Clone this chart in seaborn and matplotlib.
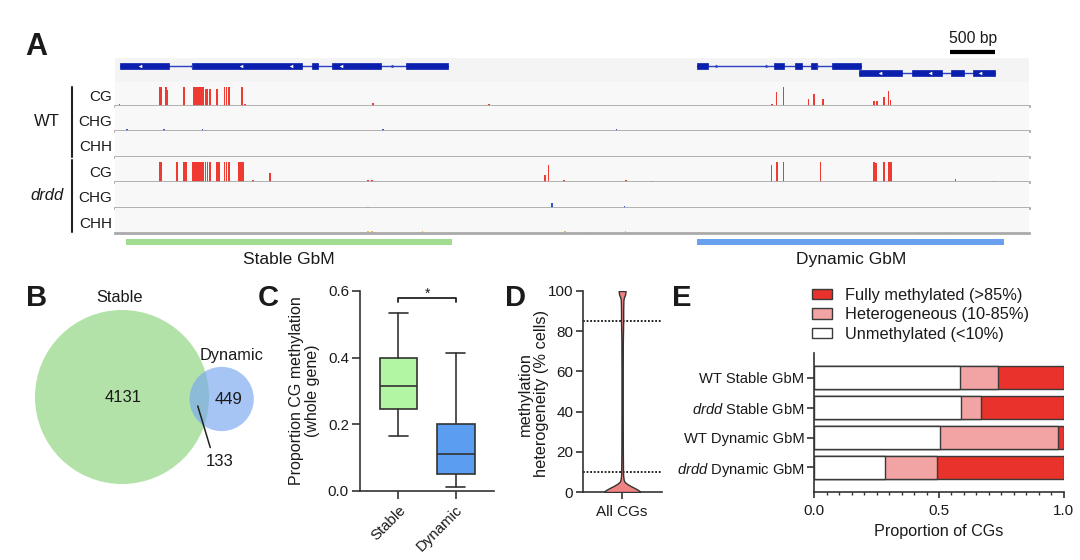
import numpy as np
import pandas as pd
import matplotlib
matplotlib.use("Agg")
import matplotlib.pyplot as plt
from matplotlib.patches import Rectangle, Circle, Patch
from matplotlib.lines import Line2D
from matplotlib.ticker import MultipleLocator
import matplotlib.transforms as mtransforms
import seaborn as sns

# ---------------- data ----------------
REGION_BP = 10210

# gene models (bp), row 0 = upper row, row 1 = lower row
gene_rows = [0, 0, 1]
gene_strand = ["-", "+", "-"]
gene_exons = [
    [(54, 600), (861, 2089), (2196, 2273), (2427, 2966), (3254, 3716)],
    [(6498, 6621), (7363, 7478), (7593, 7678), (7778, 7847), (8009, 8336)],
    [(8313, 8794), (8901, 9236), (9344, 9485), (9586, 9832)],
]

# CG sites with no methylation (shown as small ticks under the CG tracks)
cg_sites = [190, 413, 447, 491, 1318, 1396, 1441, 1474, 1541, 1564, 1597, 1620, 1642, 1676,
            1731, 1810, 1843, 1877, 1899, 1977, 2044, 2066, 2725, 2904, 2938, 2960, 3116,
            3183, 3485, 3809, 4166, 4289, 4390, 4446, 4490, 4546, 4747, 4792, 4837, 5004,
            5082, 5194, 5239, 5283, 5362, 5451, 5507, 5607, 5641, 5697, 5730, 5842, 5954,
            5987, 6021, 6054, 6088, 6132, 6166, 6255, 6490, 6534, 6579, 6624, 6791, 6847,
            6892, 6925, 7037, 7395, 7540, 7797, 7887, 7931, 8154, 8545, 8657, 8914, 9048,
            9137, 9182, 9360, 9417, 9584, 9606, 9662, 9696, 9740, 9941, 9997, 10131]

# methylation levels per site (0-1)
wt_cg_pos = [50, 496, 512, 570, 585, 773, 881, 900, 919, 938, 958, 985, 1015, 1034, 1062,
             1138, 1223, 1247, 1270, 1420, 1454, 2881, 4178,
             7343, 7390, 7467, 7748, 7806, 7909, 8478, 8509, 8594, 8640, 8664]
wt_cg_lvl = [0.1, 1.0, 1.0, 1.0, 0.83, 1.0, 1.0, 1.0, 1.0, 1.0, 1.0, 1.0, 0.9, 0.86, 0.86,
             0.86, 1.0, 1.0, 1.0, 1.0, 0.1, 0.15, 0.12,
             0.1, 0.71, 1.0, 0.36, 0.6, 0.34, 0.28, 0.28, 0.48, 0.78, 0.31]
wt_chg_pos = [134, 548, 977, 1015, 2993, 5601]
wt_chg_lvl = [0.12, 0.08, 0.1, 0.07, 0.1, 0.1]
wt_chh_pos = [548, 985, 1030, 1080, 1138, 2881, 4524, 6825, 7641, 8053, 8250, 8369, 9190]
wt_chh_lvl = [0.05, 0.06, 0.05, 0.06, 0.05, 0.06, 0.05, 0.04, 0.04, 0.04, 0.04, 0.04, 0.04]

drdd_cg_pos = [496, 512, 689, 773, 793, 869, 889, 908, 927, 946, 965, 985, 1012, 1034, 1062,
               1138, 1162, 1223, 1247, 1270, 1388, 1407, 1430, 1543, 1735, 2824, 2870,
               4805, 4843, 5016, 5613, 5709, 5997,
               7332, 7393, 7467, 7882, 8478, 8502, 8594, 8643, 8667, 9390, 9818]
drdd_cg_lvl = [1.0, 1.0, 1.0, 1.0, 1.0, 1.0, 1.0, 1.0, 1.0, 1.0, 1.0, 1.0, 1.0, 1.0, 1.0,
               1.0, 1.0, 1.0, 1.0, 1.0, 1.0, 1.0, 1.0, 0.1, 0.47, 0.1, 0.1,
               0.33, 0.86, 0.1, 0.07, 0.1, 0.05,
               0.86, 1.0, 1.0, 1.0, 1.0, 0.95, 1.0, 1.0, 1.0, 0.15, 0.05]
drdd_chg_pos = [2824, 4881, 5690]
drdd_chg_lvl = [0.05, 0.22, 0.08]
drdd_chh_pos = [2824, 2870, 3436, 5024, 5306, 5701, 8978, 9305]
drdd_chh_lvl = [0.08, 0.08, 0.1, 0.1, 0.06, 0.1, 0.04, 0.04]

region_names = ["Stable GbM", "Dynamic GbM"]
region_start = [120, 6505]
region_end = [3762, 9932]
region_colors = ["#a2dc90", "#6aa0f0"]

# Venn counts
venn_only_stable = 4131
venn_only_dynamic = 449
venn_both = 133

# box plot (proportion CG methylation)
box_groups = ["Stable", "Dynamic"]
box_whislo = [0.165, 0.012]
box_q1 = [0.247, 0.052]
box_med = [0.315, 0.112]
box_q3 = [0.400, 0.200]
box_whishi = [0.533, 0.415]
box_colors = ["#b2f5a2", "#5b9df0"]

# violin profile (% cells vs relative density)
vio_y = [0, 0.5, 1, 2, 3, 4, 5, 6, 8, 10, 20, 40, 60, 75, 80, 85, 90, 95, 96, 97, 98, 99, 100]
vio_density = [1.0, 0.97, 0.89, 0.69, 0.47, 0.28, 0.14, 0.09, 0.06, 0.05, 0.04, 0.035, 0.035,
               0.04, 0.05, 0.06, 0.06, 0.07, 0.08, 0.11, 0.16, 0.18, 0.19]
vio_thresholds = [85, 10]

# stacked proportions
e_groups = ["WT Stable GbM", "$\\it{drdd}$ Stable GbM", "WT Dynamic GbM", "$\\it{drdd}$ Dynamic GbM"]
e_unmeth = [0.585, 0.588, 0.505, 0.284]
e_het = [0.151, 0.080, 0.472, 0.206]
e_full = [0.264, 0.332, 0.023, 0.510]
e_labels = ["Fully methylated (>85%)", "Heterogeneous (10-85%)", "Unmethylated (<10%)"]
e_colors = ["#e8322b", "#f2a3a3", "#ffffff"]

# ---------------- style ----------------
sns.set_theme(style="ticks")
plt.rcParams["font.family"] = ["Liberation Sans", "DejaVu Sans"]
plt.rcParams["mathtext.fontset"] = "custom"
plt.rcParams["mathtext.rm"] = "Liberation Sans"
plt.rcParams["mathtext.it"] = "Liberation Sans:italic"
plt.rcParams["axes.edgecolor"] = "#333333"
plt.rcParams["axes.linewidth"] = 1.2
plt.rcParams["xtick.color"] = "#333333"
plt.rcParams["ytick.color"] = "#333333"
plt.rcParams["xtick.labelcolor"] = "#1a1a1a"
plt.rcParams["ytick.labelcolor"] = "#1a1a1a"
plt.rcParams["text.color"] = "#1a1a1a"
plt.rcParams["axes.labelcolor"] = "#1a1a1a"

W, H = 1080, 560
fig = plt.figure(figsize=(W / 100, H / 100), dpi=100)


def px_axes(x0, y0, x1, y1):
    return fig.add_axes([x0 / W, 1 - y1 / H, (x1 - x0) / W, (y1 - y0) / H])


def letter(x, y, s, size=21):
    fig.text(x / W, 1 - y / H, s, fontsize=size, fontweight="bold", va="baseline", ha="left")


# ---------------- A: browser ----------------
gax = px_axes(115, 58, 1029, 82)
gax.set_facecolor("#f4f4f4")
gax.set_xlim(0, REGION_BP)
gax.set_ylim(2.29, -1.14)
for s in gax.spines.values():
    s.set_visible(False)
gax.set_xticks([])
gax.set_yticks([])
for row, strand, exons in zip(gene_rows, gene_strand, gene_exons):
    start, end = exons[0][0], exons[-1][1]
    gax.plot([start, end], [row, row], color="#2a3fc4", lw=1.0, zorder=2)
    for a, b in exons:
        gax.add_patch(Rectangle((a, row - 0.43), b - a, 0.86, fc="#0b1fae", ec="#0b1fae", lw=0.5, zorder=3))
    mk = "<" if strand == "-" else ">"
    for xm in np.arange(start + 230, end - 100, 560):
        inside = any(a <= xm <= b for a, b in exons)
        gax.plot(xm, row, marker=mk, ms=2.6, color="white" if inside else "#2a3fc4",
                 mec="none", zorder=4)

# scale bar
sb_trans = mtransforms.blended_transform_factory(gax.transData, gax.transAxes)
gax.plot([9332, 9832], [1.25, 1.25], color="black", lw=3, transform=sb_trans, clip_on=False,
         solid_capstyle="butt")
gax.text(9582, 1.83, "500 bp", transform=sb_trans, ha="center", va="center", fontsize=11.3)

tracks = [
    (82, 106, wt_cg_pos, wt_cg_lvl, "#ee3a30", "CG"),
    (106, 131, wt_chg_pos, wt_chg_lvl, "#3456e0", "CHG"),
    (131, 157, wt_chh_pos, wt_chh_lvl, "#e8b848", "CHH"),
    (157, 182, drdd_cg_pos, drdd_cg_lvl, "#ee3a30", "CG"),
    (182, 208, drdd_chg_pos, drdd_chg_lvl, "#3456e0", "CHG"),
    (208, 233, drdd_chh_pos, drdd_chh_lvl, "#e8b848", "CHH"),
]
for y0, y1, pos, lvl, col, lab in tracks:
    ax = px_axes(115, y0, 1029, y1)
    ax.set_facecolor("#f8f8f8")
    ax.set_xlim(0, REGION_BP)
    ax.set_ylim(0, 1.25)
    ax.bar(pos, lvl, width=19, color=col, linewidth=0)
    if lab == "CG":
        ax.vlines(cg_sites, -0.17, -0.07, color="#555555", lw=0.8, clip_on=False, zorder=5)
    for s in ["top", "left", "right"]:
        ax.spines[s].set_visible(False)
    ax.spines["bottom"].set_color("#aaaaaa")
    ax.spines["bottom"].set_linewidth(2)
    ax.set_xticks([])
    ax.set_yticks([])
    ax.text(-0.0035, 0.37, lab, transform=ax.transAxes, ha="right", va="center", fontsize=11)

fig.text(47 / W, 1 - 122 / H, "WT", ha="center", va="center", fontsize=12)
fig.text(47 / W, 1 - 196 / H, "drdd", ha="center", va="center", fontsize=12, fontstyle="italic")
fig.add_artist(Line2D([72 / W, 72 / W], [1 - 87 / H, 1 - 157 / H], color="#222222", lw=1.5))
fig.add_artist(Line2D([72 / W, 72 / W], [1 - 160 / H, 1 - 232 / H], color="#222222", lw=1.5))

rax = px_axes(115, 236, 1029, 272)
rax.set_xlim(0, REGION_BP)
rax.set_ylim(1.67, -0.33)
rax.axis("off")
for name, a, b, col in zip(region_names, region_start, region_end, region_colors):
    rax.add_patch(Rectangle((a, -0.17), b - a, 0.33, fc=col, ec="none"))
    rax.text((a + b) / 2, 1.0, name, ha="center", va="center", fontsize=12.5)

letter(25, 55, "A", 22)

# ---------------- B: Venn ----------------
bax = px_axes(0, 275, 280, 500)
bax.set_xlim(0, 280)
bax.set_ylim(225, 0)
bax.set_aspect("equal")
bax.axis("off")

n1 = venn_only_stable + venn_both
n2 = venn_only_dynamic + venn_both
k = 87 / np.sqrt(n1)
r1, r2 = k * np.sqrt(n1), k * np.sqrt(n2)
target = np.pi * k ** 2 * venn_both


def lens(d):
    a1 = r1 ** 2 * np.arccos((d ** 2 + r1 ** 2 - r2 ** 2) / (2 * d * r1))
    a2 = r2 ** 2 * np.arccos((d ** 2 + r2 ** 2 - r1 ** 2) / (2 * d * r2))
    a3 = 0.5 * np.sqrt((-d + r1 + r2) * (d + r1 - r2) * (d - r1 + r2) * (d + r1 + r2))
    return a1 + a2 - a3


lo, hi = r1 - r2 + 0.01, r1 + r2 - 0.01
for _ in range(60):
    mid = (lo + hi) / 2
    if lens(mid) > target:
        lo = mid
    else:
        hi = mid
d = (lo + hi) / 2
cx1, cy1 = 122, 122
cx2, cy2 = cx1 + d, 124
bax.add_patch(Circle((cx1, cy1), r1, fc="#b3e2a8", ec="none"))
bax.add_patch(Circle((cx2, cy2), r2, fc="#78a7f0", ec="none", alpha=0.66))
bax.text(cx1 - 2.5, cy1 - r1 - 12, "Stable", ha="center", va="center", fontsize=11.8)
bax.text(cx2 + 10, cy2 - r2 - 11, "Dynamic", ha="center", va="center", fontsize=11.8)
bax.text(cx1 + 1, cy1 + 1, f"{venn_only_stable}", ha="center", va="center", fontsize=12)
bax.text(cx2 + 7, cy2 + 1, f"{venn_only_dynamic}", ha="center", va="center", fontsize=12)
lens_x = (cx2 - r2 + cx1 + r1) / 2
bax.plot([lens_x - 1.5, lens_x + 11], [cy2 + 7, cy2 + 48.5], color="#222222", lw=1.1)
bax.text(lens_x + 20, cy2 + 62, f"{venn_both}", ha="center", va="center", fontsize=12)
letter(26, 306, "B")

# ---------------- C: box plot ----------------
cax = px_axes(360, 291, 494, 491)
stats = [dict(label=g, whislo=a, q1=b, med=c, q3=e, whishi=f, fliers=[])
         for g, a, b, c, e, f in zip(box_groups, box_whislo, box_q1, box_med, box_q3, box_whishi)]
bp = cax.bxp(stats, positions=[0, 1], widths=0.665, patch_artist=True, showfliers=False,
             capwidths=0.33,
             boxprops=dict(edgecolor="#333333", linewidth=1.2),
             medianprops=dict(color="#333333", linewidth=1.2),
             whiskerprops=dict(color="#333333", linewidth=1.2),
             capprops=dict(color="#333333", linewidth=1.2))
for patch, col in zip(bp["boxes"], box_colors):
    patch.set_facecolor(col)
cax.set_xlim(-0.674, 1.672)
cax.set_ylim(0, 0.6)
cax.set_yticks([0, 0.2, 0.4, 0.6])
cax.set_yticklabels(["0.0", "0.2", "0.4", "0.6"])
cax.set_xticks([0, 1])
cax.set_xticklabels(box_groups, rotation=45, ha="right", rotation_mode="anchor")
cax.tick_params(axis="both", length=5.5, width=1.2, labelsize=10.8, pad=2.5)
cax.tick_params(axis="x", pad=3)
sns.despine(ax=cax)
cax.plot([0, 0, 1, 1], [0.566, 0.58, 0.58, 0.566], color="#222222", lw=1.3, clip_on=False)
cax.text(0.5, 0.593, "*", ha="center", va="center", fontsize=10)
cax.set_ylabel("Proportion CG methylation\n(whole gene)", fontsize=11.5, linespacing=1.1)
cax.yaxis.set_label_coords(-0.30, 0.5)
letter(258, 306, "C")

# ---------------- D: violin ----------------
dax = px_axes(583, 291, 662, 492)
half = 0.46 * np.array(vio_density)
dax.fill_betweenx(vio_y, -half, half, facecolor="#f08282", edgecolor="#333333", linewidth=1.0, zorder=3)
for t in vio_thresholds:
    dax.axhline(t, color="#111111", ls=(0, (1, 1)), lw=1.3, zorder=2)
dax.set_xlim(-1.0, 1.02)
dax.set_ylim(0, 100)
dax.set_yticks([0, 20, 40, 60, 80, 100])
dax.set_xticks([0])
dax.set_xticklabels(["All CGs"])
dax.tick_params(axis="both", length=5, width=1.2, labelsize=11, pad=2)
dax.tick_params(axis="x", pad=4)
sns.despine(ax=dax)
dax.set_ylabel("methylation\nheterogeneity (% cells)", fontsize=11.8, linespacing=1.1)
dax.yaxis.set_label_coords(-0.43, 0.49)
letter(505, 306, "D")

# ---------------- E: stacked bars ----------------
eax = px_axes(814.3, 353.3, 1063.7, 491.7)
edf = pd.DataFrame({"group": e_groups, "unmeth": e_unmeth, "het": e_het, "full": e_full})
edf["cum_het"] = edf["unmeth"] + edf["het"]
edf["cum_full"] = edf["cum_het"] + edf["full"]
for col, colr in zip(["cum_full", "cum_het", "unmeth"], e_colors):
    sns.barplot(data=edf, x=col, y="group", order=e_groups, orient="h", color=colr,
                width=0.78, edgecolor="#3a3a3a", linewidth=1.0, errorbar=None,
                saturation=1, ax=eax)
eax.set_xlim(0, 1)
eax.set_ylim(3.81, -0.816)
eax.set_xticks([0, 0.5, 1.0])
eax.set_xticklabels(["0.0", "0.5", "1.0"])
eax.xaxis.set_minor_locator(MultipleLocator(0.05))
eax.tick_params(axis="x", which="major", length=4.5, width=1.2, labelsize=11, pad=4)
eax.tick_params(axis="x", which="minor", length=2.5, width=1.0)
eax.tick_params(axis="y", length=5, width=1.2, labelsize=10.6, pad=2)
eax.set_ylabel("")
eax.set_xlabel("Proportion of CGs", fontsize=11.6)
eax.xaxis.set_label_coords(0.5, -0.23)
sns.despine(ax=eax)
handles = [Patch(fc=c, ec="#3a3a3a", lw=1.0) for c in e_colors]
fig.legend(handles, e_labels, loc="upper left", bbox_to_anchor=(812 / W, 1 - 288 / H),
           frameon=False, fontsize=11.8, handlelength=1.25, handleheight=0.6,
           handletextpad=0.75, labelspacing=0.27, borderpad=0, borderaxespad=0)
letter(672, 306, "E")

fig.savefig("out.png", dpi=100)
